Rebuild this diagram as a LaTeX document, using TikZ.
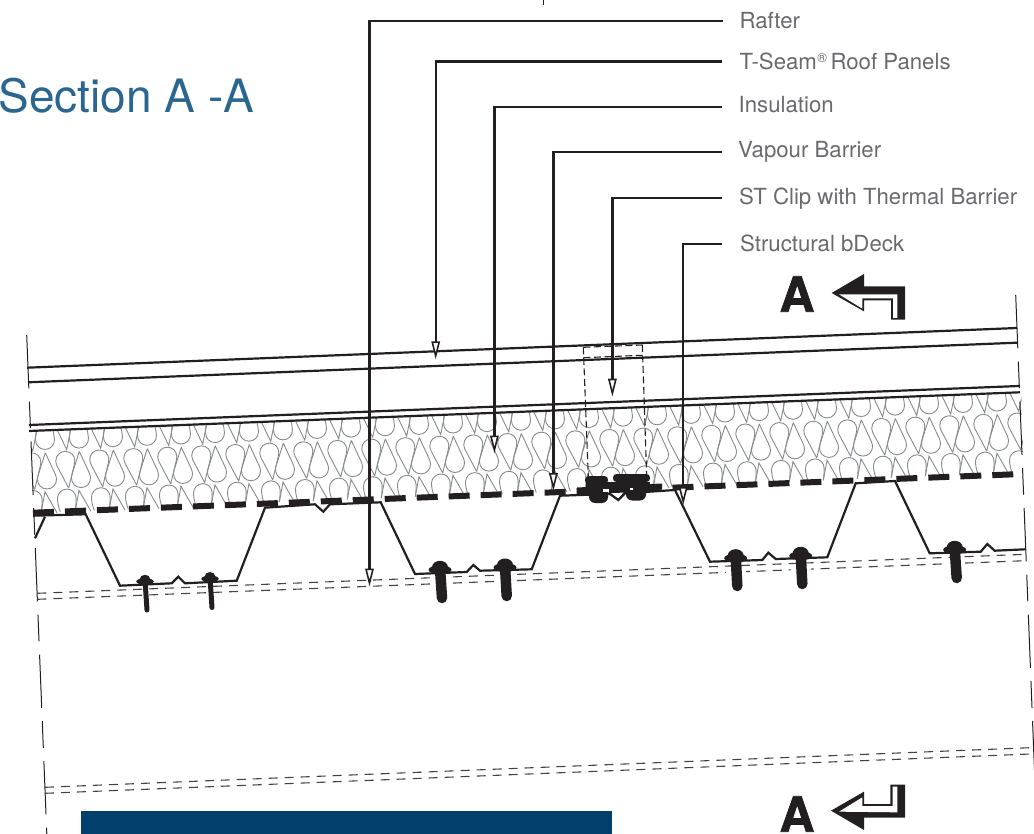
\documentclass[tikz,border=0pt]{standalone}
\usepackage{fontspec}
\setmainfont{TeX Gyre Heros}
\usetikzlibrary{arrows.meta}
\definecolor{ink}{HTML}{231F20}
\definecolor{labelgrey}{HTML}{696A6D}
\definecolor{navy}{HTML}{01406C}
\definecolor{titleblue}{HTML}{2A6690}
\definecolor{woolgrey}{HTML}{858A8D}
\tikzset{
  x=1pt,y=-1pt,
  leader/.style={draw=ink,line width=2.2pt,-{Triangle[open,fill=white,length=18pt,width=8.5pt,line width=1.6pt]}},
  labeltext/.style={anchor=base west,inner sep=0pt,text=labelgrey,font=\fontsize{22.2}{26}\selectfont},
  bigletter/.style={anchor=base,inner sep=0pt,text=ink,font=\fontsize{48.5}{50}\selectfont\bfseries\addfontfeature{FakeBold=1.5}},
  wool/.style={draw=woolgrey,line width=0.9pt},
  solidline/.style={draw=ink,line width=2.2pt},
  deck/.style={draw=ink,line width=2.2pt,line join=miter},
  thindash/.style={draw=ink!85,line width=1.1pt,dash pattern=on 9pt off 7pt},
  breakline/.style={draw=ink,line width=1pt,dash pattern=on 53.3pt off 13.3pt on 26.7pt off 13.3pt},
  clipdash/.style={draw=ink,line width=1.1pt,dash pattern=on 7pt off 3.5pt},
}
\newcommand{\woolmotif}[2]{%
\begin{scope}[shift={(#1,#2)}]
\path[wool] (3.4,26.7) -- (-8.3,4.5) .. controls (-9.3,2) and (-9.5,0.5) .. (-9.5,-0.5) .. controls (-9.5,-6) and (-5.2,-10) .. (0,-10) .. controls (5.5,-10) and (9.5,-6) .. (9.5,-0.5) .. controls (9.5,1) and (9.2,2.5) .. (8.8,4) -- (3.4,26.7);
\path[wool] (14,-10) -- (7.2,11.5) .. controls (6.5,13.5) and (6.2,15) .. (6.2,16.7) .. controls (6.2,22) and (10.3,26.2) .. (15.7,26.2) .. controls (21,26.2) and (25.2,22) .. (25.2,16.7) .. controls (25.2,15) and (24.8,13.5) .. (24,11.5) -- (14,-10);
\path[wool] (5.5,-34) .. controls (4.5,-30) and (4.2,-27) .. (4.2,-23) .. controls (4.2,-17.5) and (8.5,-13.3) .. (13.7,-13.3) .. controls (19,-13.3) and (23.2,-17.5) .. (23.2,-23) .. controls (23.2,-27) and (22,-30) .. (21,-35);
\path[wool] (-9.3,-34) -- (1.4,-11.7) -- (5.7,-33);
\path[wool] (-5,50.5) .. controls (-7,45) and (-7.8,41) .. (-7.8,37) .. controls (-7.8,32) and (-3.5,27.7) .. (1.7,27.7) .. controls (7,27.7) and (10.8,32) .. (10.8,37) .. controls (10.8,42) and (10.5,46) .. (10,49);
\path[wool] (10,49) -- (13.7,29) -- (25.7,50);
\end{scope}}
% fastener: head x, head y, shaft end x, shaft end y, washer w, washer h, dome w, dome h, shaft width
\newcommand{\fastener}[9]{%
\draw[ink,line width=#9pt,line cap=round] (#1,#2) -- (#3,#4);
\fill[ink] (#1,#2+1.5) ellipse ({#5/2} and {#6/2});
\fill[ink] (#1,#2-1) ellipse ({#7/2} and {#8/2});}
\newcommand{\halo}[4]{\draw[white,line width=20pt] (#1,#2+12) -- (#3,#4);}
\begin{document}
\begin{tikzpicture}
\useasboundingbox (0,0) rectangle (1034,834);
\clip (0,0) rectangle (1034,834);

% insulation
\begin{scope}
\clip (31,431) -- (1021,392.3) -- (1024,474) -- (1024,478) -- (33,516) -- cycle;
\foreach \i in {-3,...,27} {\woolmotif{99.3+34*\i}{460-1.37*\i}}
\end{scope}

% break lines
\coordinate (bl1) at (26.7,335); \coordinate (bl2) at (46.8,834);
\coordinate (br1) at (1015.7,295); \coordinate (br2) at (1037,834);
\draw[breakline] (bl1) -- (bl2);
\draw[breakline] (br1) -- (br2);
\coordinate (tk1) at (543.4,0); \coordinate (tk2) at (543.4,5);
\draw[ink,line width=1pt] (tk1) -- (tk2);

% rafter dashed lines
\draw[thindash] (37.3,593.3) -- (1025.7,554.3);
\draw[thindash] (37.3,599.3) -- (1025.7,560.7);
\draw[thindash] (44.9,787.3) -- (1030.3,747.7);
\draw[thindash] (44.9,793.3) -- (1030.3,754);

% halos around the large screws
\halo{440}{568}{442}{606}
\halo{505}{566}{506.7}{604}
\halo{735.7}{556.7}{737.3}{594}
\halo{800.7}{554.3}{802.3}{592}
\halo{954.7}{548.3}{956.7}{586}

% panel lines
\draw[solidline] (27,367.7) -- (1017,328);
\draw[solidline] (28,382.3) -- (1017,342.7);
\draw[solidline] (29,425) -- (1019,386);
\draw[solidline] (29,431) -- (1020,392.3);

% deck
\draw[deck] (35,538.3) -- (45,516.7);
\draw[deck] (33,515.7) -- (85.7,514.3) -- (120,585.7) -- (171.7,583.3) -- (178.3,576.7) -- (185,583.3) -- (236.7,580.7) -- (265,507.7) -- (315,504.3) -- (323.3,511.7) -- (330,504.3) -- (380.7,502.3) -- (415,574) -- (466.7,572) -- (473.3,565) -- (480,570.7) -- (531.7,569.3) -- (560,495.7) -- (610,494) -- (618.3,500) -- (625,493.3) -- (675,490) -- (710,561.7) -- (762.3,560) -- (768.3,552.7) -- (775.7,559) -- (827.3,557.3) -- (855.7,483.3) -- (895,481) -- (929.7,553.3) -- (980.7,551.7) -- (987.3,544) -- (994.7,550.7) -- (1025.7,549.3);

% vapour barrier
\draw[ink,line width=6pt,dash pattern=on 21pt off 11pt] (33,512.7) -- (1014,474.3);

% fasteners
\fastener{145}{580}{147}{610}{17.5}{6.5}{10.5}{8.5}{5}
\fastener{210}{577.3}{212}{607.5}{17.5}{6.5}{10.5}{8.5}{5}
\fastener{440}{568.3}{442}{598}{23}{9}{16}{13}{10.5}
\fastener{505}{566}{506.7}{596}{23}{9}{16}{13}{10.5}
\fastener{735.7}{556.7}{737.3}{586}{23}{9}{16}{13}{10.5}
\fastener{800.7}{554.3}{802.3}{584}{23}{9}{16}{13}{10.5}
\fastener{954.7}{548.3}{956.7}{578}{23}{9}{16}{13}{10.5}

% clip
\draw[clipdash] (583.3,347.3) -- (642.3,345);
\draw[clipdash] (583.3,357.7) -- (642.3,355.3);
\draw[clipdash] (583.3,347.3) -- (588.3,476.7);
\draw[clipdash] (642.3,345) -- (646.7,476.7);
\fill[ink,rounded corners=3.5pt] (585,476) rectangle (608,484);
\fill[ink,rounded corners=3.5pt] (613,474) rectangle (650,482);
\fill[ink] (577,487.5) -- (662,483.5) -- (662,489) -- (577,493) -- cycle;
\fill[ink] (586,482) rectangle (650,488);
\fill[ink,rounded corners=6pt] (589,486) rectangle (608,503);
\fill[ink,rounded corners=6pt] (626,484) rectangle (646,500.5);
\fill[white] (603,489) rectangle (609,492);
\fill[white] (630,488) rectangle (633,490);
\draw[ink,line width=1.5pt] (609,493) -- (618.3,500) -- (625,492);

% leaders
\coordinate (s1) at (723,21.3);   \coordinate (t1) at (369.5,586.5);
\coordinate (s2) at (722.3,61.5); \coordinate (t2) at (435.7,359.3);
\coordinate (s3) at (722,107.3);  \coordinate (t3) at (494.4,453.5);
\coordinate (s4) at (722,152.4);  \coordinate (t4) at (553.4,491);
\coordinate (s5) at (722,198);    \coordinate (t5) at (612.4,396.7);
\coordinate (s6) at (722,244.3);  \coordinate (t6) at (683.2,505);
\draw[leader] (s1) -| (t1);
\draw[leader] (s2) -| (t2);
\draw[leader] (s3) -| (t3);
\draw[leader] (s4) -| (t4);
\draw[leader] (s5) -| (t5);
\draw[leader] (s6) -| (t6);

% labels
\node[labeltext] (rafter) at (739.5,29) {Rafter};
\node[labeltext] (tseam) at (739.5,69.5) {T-Seam\kern0.5pt\raisebox{6.5pt}{\fontsize{13}{13}\selectfont ®}\kern3.5pt Roof Panels};
\node[labeltext] (insul) at (738.5,112.5) {Insulation};
\node[labeltext] (vapour) at (738,157.7) {Vapour Barrier};
\node[labeltext] (stclip) at (739,204.5) {ST Clip with Thermal Barrier};
\node[labeltext] (sdeck) at (740,251.7) {Structural bDeck};
\node[anchor=base west,inner sep=0pt,text=titleblue,font=\fontsize{46}{50}\selectfont] (title) at (-1.5,112.3) {Section A -A};

% section markers
\node[bigletter] (topA) at (797,311.7) {A};
\node[bigletter] (botA) at (797,831.7) {A};
\begin{scope}[shift={(825,268)},x=0.3333pt,y=-0.3333pt]
\fill[ink] (20,75) -- (117,18) -- (117,55) -- (240,55) -- (240,155) -- (198,155) -- (198,97) -- (117,97) -- (117,130) -- cycle;
\fill[white] (42,79) -- (217,79) -- (217,150) -- (204,150) -- (204,91) -- (112,91) -- (112,122) -- cycle;
\end{scope}
\begin{scope}[shift={(825,780)},x=0.3333pt,y=-0.3333pt]
\fill[ink] (18,92) -- (117,35) -- (117,72) -- (196,72) -- (196,14) -- (240,14) -- (240,113) -- (117,113) -- (117,150) -- cycle;
\fill[white] (42,95) -- (112,52) -- (112,78) -- (203,78) -- (203,20) -- (217,20) -- (217,97) -- cycle;
\end{scope}

% band
\fill[navy] (81,811) rectangle (611.5,834);
\end{tikzpicture}
\end{document}
